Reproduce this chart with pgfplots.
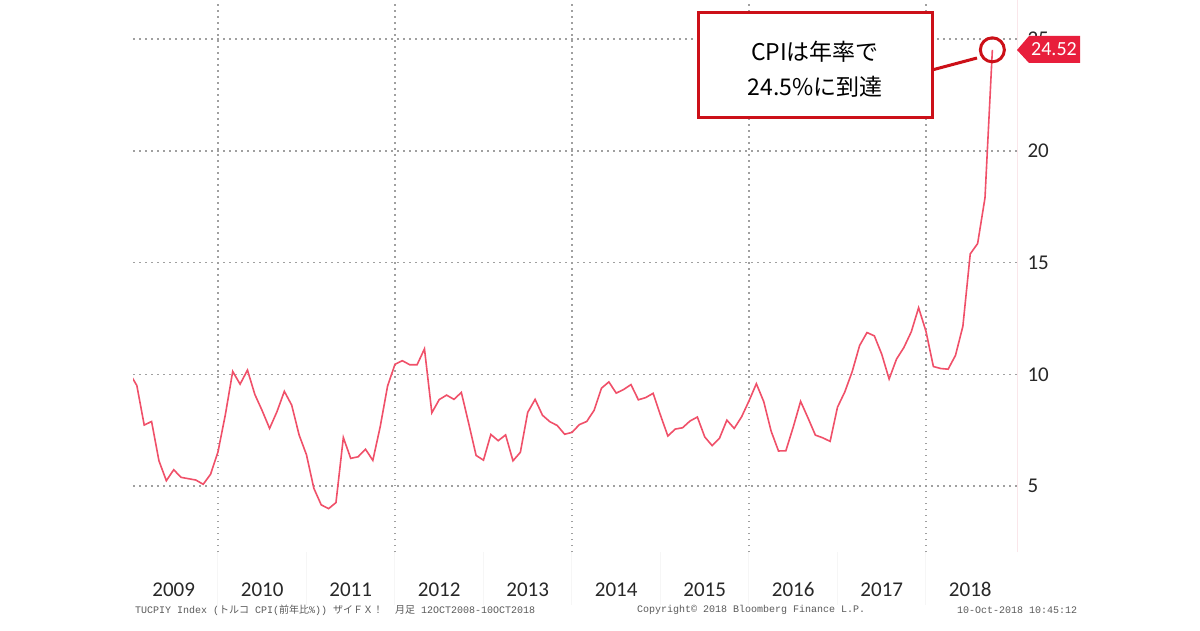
\documentclass[border=0pt]{standalone}
\usepackage{fontspec}
\setmainfont{Carlito}
\newfontfamily\jp{Noto Sans CJK JP}
\newfontfamily\mono{Liberation Mono}
\usepackage{pgfplots}
\pgfplotsset{compat=1.18}
\definecolor{cpiline}{RGB}{240,80,105}
\definecolor{boxred}{RGB}{204,16,24}
\definecolor{tagred}{RGB}{232,30,60}
\definecolor{gridgray}{RGB}{160,160,160}
\definecolor{tickgray}{RGB}{40,40,40}
\definecolor{footgray}{RGB}{90,90,90}
\definecolor{sepgray}{RGB}{246,246,246}
\definecolor{edgepink}{RGB}{250,230,234}
% month index: 0 = Dec 2008 (end of month), 1 = Jan 2009, ..., 117 = Sep 2018
\pgfplotstableread{
m v
0 10.06
1 9.50
2 7.73
3 7.89
4 6.13
5 5.24
6 5.73
7 5.39
8 5.33
9 5.27
10 5.08
11 5.53
12 6.53
13 8.19
14 10.13
15 9.56
16 10.19
17 9.10
18 8.37
19 7.58
20 8.33
21 9.24
22 8.62
23 7.29
24 6.40
25 4.90
26 4.16
27 3.99
28 4.26
29 7.17
30 6.24
31 6.31
32 6.65
33 6.15
34 7.66
35 9.48
36 10.45
37 10.61
38 10.43
39 10.43
40 11.14
41 8.28
42 8.87
43 9.07
44 8.88
45 9.19
46 7.80
47 6.37
48 6.16
49 7.31
50 7.03
51 7.29
52 6.13
53 6.51
54 8.30
55 8.88
56 8.17
57 7.88
58 7.71
59 7.32
60 7.40
61 7.75
62 7.89
63 8.39
64 9.38
65 9.66
66 9.16
67 9.32
68 9.54
69 8.86
70 8.96
71 9.15
72 8.17
73 7.24
74 7.55
75 7.61
76 7.91
77 8.09
78 7.20
79 6.81
80 7.14
81 7.95
82 7.58
83 8.10
84 8.81
85 9.58
86 8.78
87 7.46
88 6.57
89 6.58
90 7.64
91 8.79
92 8.05
93 7.28
94 7.16
95 7.00
96 8.53
97 9.22
98 10.13
99 11.29
100 11.87
101 11.72
102 10.90
103 9.79
104 10.68
105 11.20
106 11.90
107 12.98
108 11.92
109 10.35
110 10.26
111 10.23
112 10.85
113 12.15
114 15.39
115 15.85
116 17.90
117 24.52
}\cpidata
\begin{document}
\begin{tikzpicture}
\useasboundingbox[fill=white] (0pt,0pt) rectangle (1200pt,630pt);
\begin{axis}[
  at={(133pt,78pt)}, anchor=south west,
  width=884pt, height=552pt, scale only axis,
  xmin=0.48, xmax=120.34, ymin=2.05, ymax=26.75,
  clip mode=individual,
  axis line style={draw=none},
  major tick length=0pt,
  xtick={6,18,30,42,54,66,78,90,102,114},
  xticklabels={2009,2010,2011,2012,2013,2014,2015,2016,2017,2018},
  xticklabel style={font=\fontsize{21}{21}\selectfont, text=tickgray, yshift=-27pt},
  ytick={5,10,15,20,25},
  yticklabel pos=right,
  yticklabel style={font=\fontsize{21}{21}\selectfont, text=tickgray, xshift=7pt},
  /pgf/number format/assume math mode=true,
  ymajorgrids=true,
  major grid style={gridgray, line width=1.4pt, dash pattern=on 1.5pt off 4.5pt},
]
  % year separators in the label band
  \pgfplotsinvokeforeach{12,24,36,48,60,72,84,96,108}{
    \draw[sepgray, line width=1pt] (axis cs:#1,2.05) -- (axis cs:#1,-0.3);
  }
  % vertical dotted grid every two years
  \pgfplotsinvokeforeach{12,36,60,84,108}{
    \draw[gridgray, line width=1.4pt, dash pattern=on 1.5pt off 4.5pt] (axis cs:#1,2.05) -- (axis cs:#1,26.6);
  }
  \draw[edgepink, line width=1pt] (axis cs:120.34,2.05) -- (axis cs:120.34,26.75);
  \addplot[cpiline, line width=1.6pt] table[x=m, y=v] {\cpidata};
  \draw[boxred, line width=3pt] (axis cs:117,24.52) circle[radius=12pt];
\end{axis}
% value tag
\fill[tagred] (1017pt,580pt) -- (1029pt,594pt) -- (1080pt,594pt) -- (1080pt,567pt) -- (1029pt,567pt) -- cycle;
\node[text=white, font=\fontsize{20}{20}\selectfont] at (1054pt,580.5pt) {24.52};
% callout
\draw[boxred, line width=3pt] (932pt,560pt) -- (977pt,572pt);
\draw[boxred, line width=3pt, fill=white] (698pt,512pt) rectangle (932pt,617pt);
\node[font=\jp\fontsize{23}{23}\selectfont] at (815pt,578pt) {CPIは年率で};
\node[font=\jp\fontsize{23}{23}\selectfont] at (815pt,543pt) {24.5\%に到達};
% footer
\node[anchor=west, text=footgray, font=\mono\fontsize{10}{10}\selectfont, inner sep=0pt] at (135pt,20pt) {TUCPIY Index ({\jp トルコ} CPI({\jp 前年比}\%)) {\jp ザイＦＸ！}\ \ {\jp 月足} 12OCT2008-10OCT2018};
\node[anchor=west, text=footgray, font=\mono\fontsize{10}{10}\selectfont, inner sep=0pt] at (637pt,20pt) {Copyright© 2018 Bloomberg Finance L.P.};
\node[anchor=west, text=footgray, font=\mono\fontsize{10}{10}\selectfont, inner sep=0pt] at (957pt,20pt) {10-Oct-2018 10:45:12};
\end{tikzpicture}
\end{document}
